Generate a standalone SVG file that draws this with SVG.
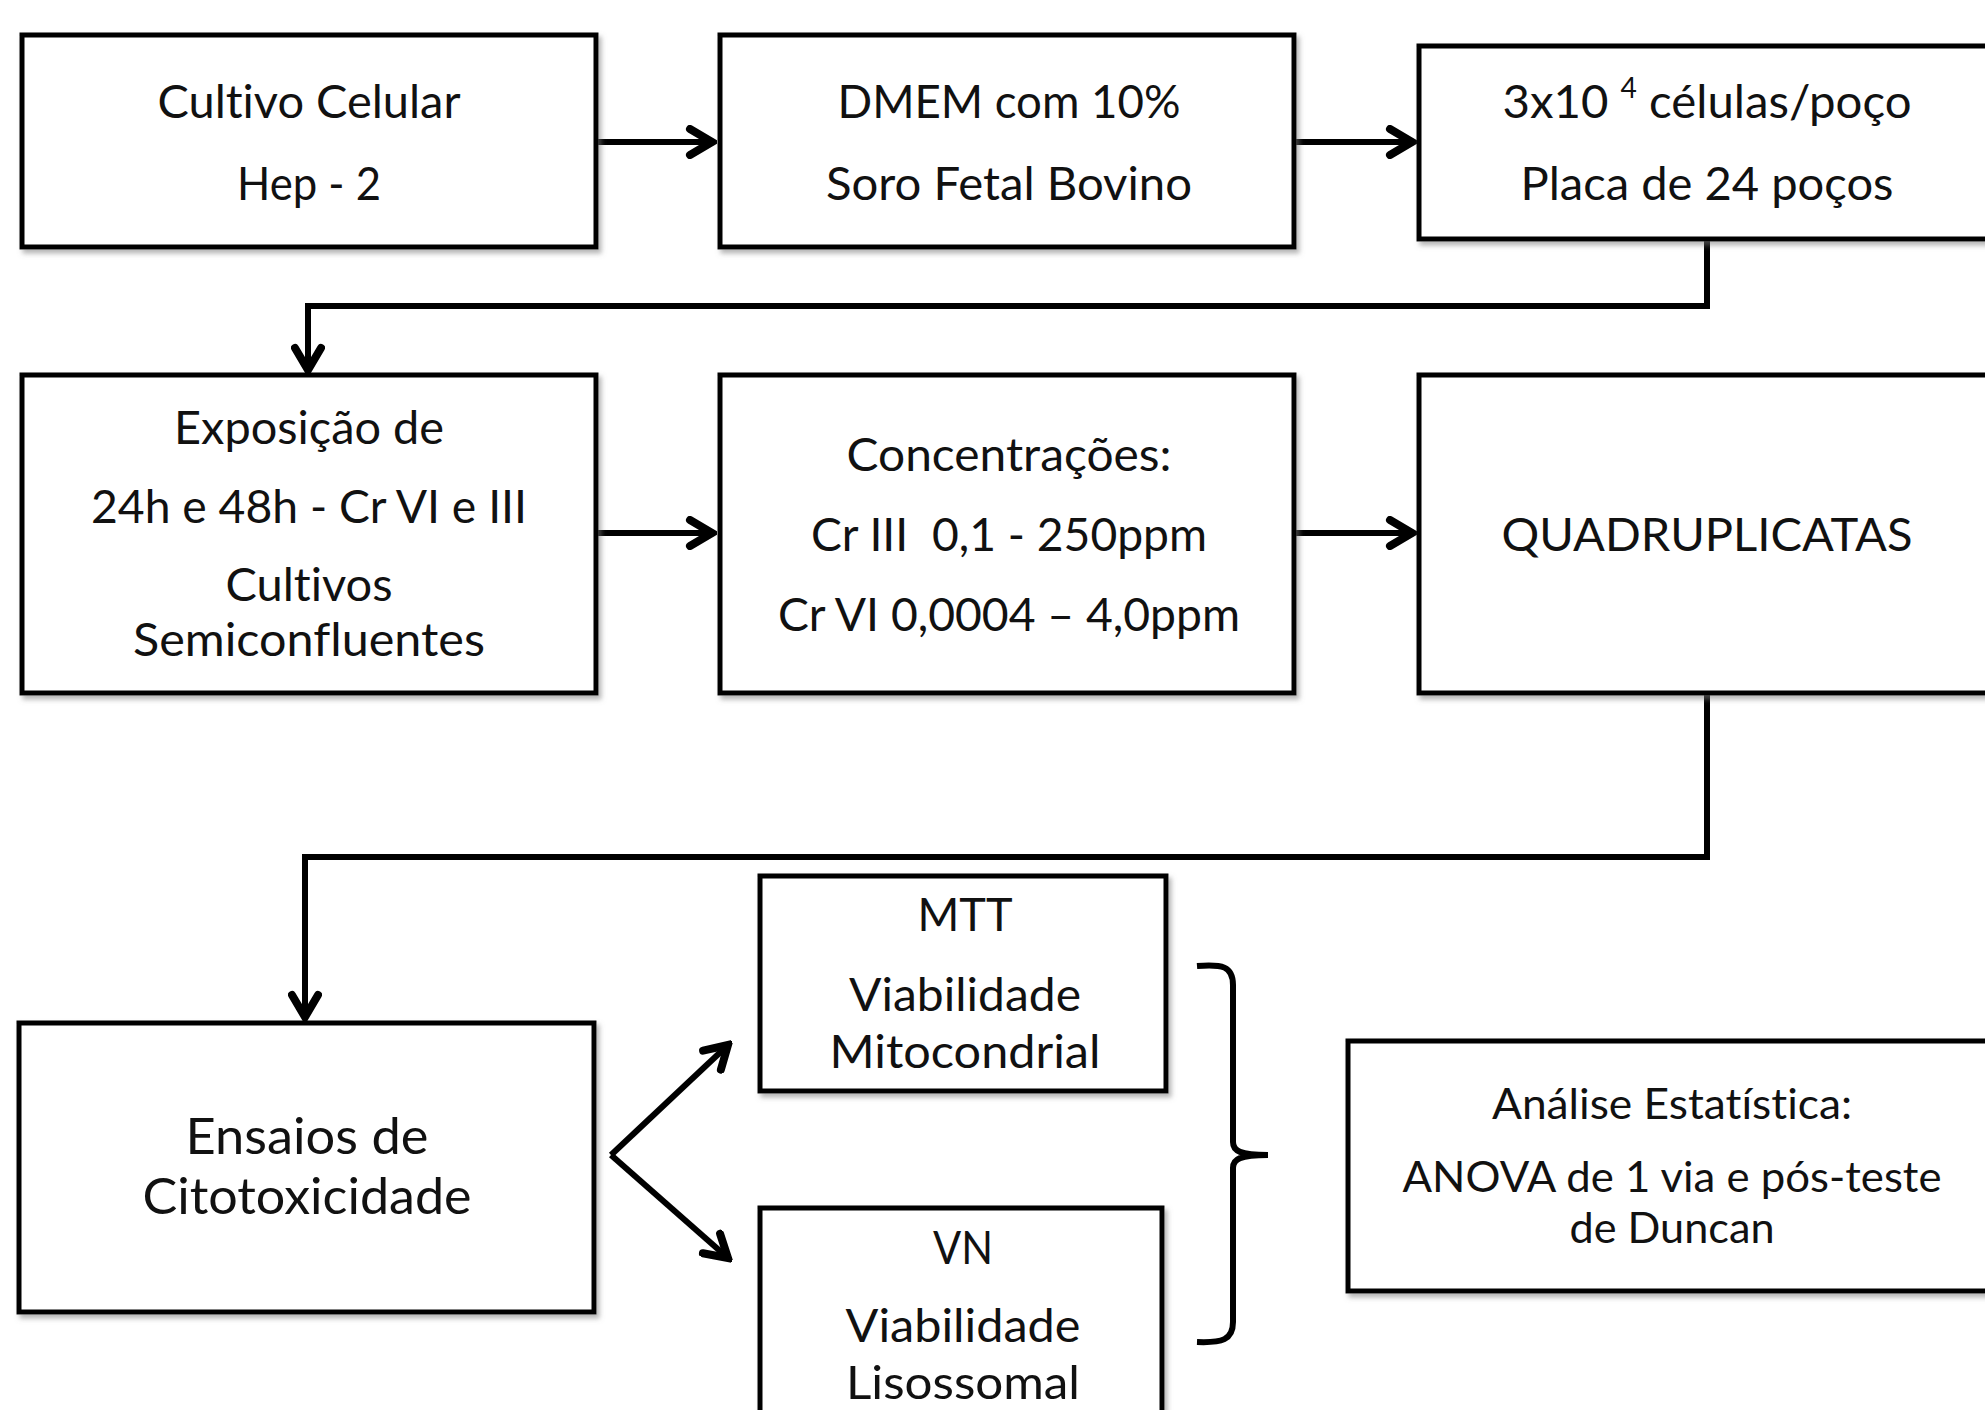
<svg xmlns="http://www.w3.org/2000/svg" width="1985" height="1410" viewBox="0 0 1985 1410">
<style>
.box{fill:#fff;stroke:#000;stroke-width:5;filter:url(#sh)}
.t{font-family:Lato,"Open Sans","Liberation Sans",sans-serif;font-size:47px;fill:#111;text-anchor:middle;font-variant-ligatures:none;font-feature-settings:"liga" 0}
.big{font-size:51px}
.sm{font-size:43px}
.c{fill:none;stroke:#000;stroke-width:6}
</style>
<defs>
<filter id="sh" x="-5%" y="-5%" width="115%" height="115%">
<feDropShadow dx="3" dy="4" stdDeviation="2.5" flood-color="#777" flood-opacity="0.55"/>
</filter>
<marker id="arr" viewBox="0 0 32 34" refX="27" refY="17" markerWidth="32" markerHeight="34" markerUnits="userSpaceOnUse" orient="auto">
<path d="M5,4 L27,17 L5,30" fill="none" stroke="#000" stroke-width="8" stroke-linecap="round" stroke-linejoin="miter"/>
</marker>
</defs>
<rect width="1985" height="1410" fill="#fff"/>

<g id="connectors">
<line class="c" x1="596" y1="142" x2="712" y2="142" marker-end="url(#arr)"/>
<line class="c" x1="1294" y1="142" x2="1412" y2="142" marker-end="url(#arr)"/>
<polyline class="c" points="1707,239 1707,306 308,306 308,370" marker-end="url(#arr)"/>
<line class="c" x1="596" y1="533" x2="712" y2="533" marker-end="url(#arr)"/>
<line class="c" x1="1294" y1="533" x2="1412" y2="533" marker-end="url(#arr)"/>
<polyline class="c" points="1707,692 1707,857 305,857 305,1017" marker-end="url(#arr)"/>
<line class="c" x1="611" y1="1155" x2="728" y2="1045" marker-end="url(#arr)"/>
<line class="c" x1="611" y1="1155" x2="728" y2="1258" marker-end="url(#arr)"/>
<path class="c" d="M1197,966 C1222,964 1233,966 1233,985 L1233,1142 C1233,1151 1240,1155 1268,1155 C1240,1155 1233,1159 1233,1168 L1233,1322 C1233,1340 1222,1343 1197,1342"/>
</g>

<g id="n1">
<rect class="box" x="22" y="35" width="574" height="212"/>
<text class="t" x="309" y="118" textLength="303" lengthAdjust="spacingAndGlyphs">Cultivo Celular</text>
<text class="t" x="309" y="200" textLength="144" lengthAdjust="spacingAndGlyphs">Hep - 2</text>
</g>
<g id="n2">
<rect class="box" x="720" y="35" width="574" height="212"/>
<text class="t" x="1009" y="118" textLength="343" lengthAdjust="spacingAndGlyphs">DMEM com 10%</text>
<text class="t" x="1009" y="200" textLength="366" lengthAdjust="spacingAndGlyphs">Soro Fetal Bovino</text>
</g>
<g id="n3">
<rect class="box" x="1419" y="46" width="600" height="193"/>
<text class="t" x="1707" y="118" textLength="409" lengthAdjust="spacingAndGlyphs">3x10 <tspan font-size="28" dy="-20">4</tspan><tspan dy="20"> células/poço</tspan></text>
<text class="t" x="1707" y="200" textLength="373" lengthAdjust="spacingAndGlyphs">Placa de 24 poços</text>
</g>
<g id="n4">
<rect class="box" x="22" y="375" width="574" height="318"/>
<text class="t" x="309" y="444" textLength="270" lengthAdjust="spacingAndGlyphs">Exposição de</text>
<text class="t" x="309" y="523" textLength="436" lengthAdjust="spacingAndGlyphs">24h e 48h - Cr VI e III</text>
<text class="t" x="309" y="601" textLength="167" lengthAdjust="spacingAndGlyphs">Cultivos</text>
<text class="t" x="309" y="656" textLength="352" lengthAdjust="spacingAndGlyphs">Semiconfluentes</text>
</g>
<g id="n5">
<rect class="box" x="720" y="375" width="574" height="318"/>
<text class="t" x="1009" y="471" textLength="325" lengthAdjust="spacingAndGlyphs">Concentrações:</text>
<text class="t" x="1009" y="551" textLength="396" lengthAdjust="spacingAndGlyphs" xml:space="preserve">Cr III  0,1 - 250ppm</text>
<text class="t" x="1009" y="631" textLength="462" lengthAdjust="spacingAndGlyphs">Cr VI 0,0004 – 4,0ppm</text>
</g>
<g id="n6">
<rect class="box" x="1419" y="375" width="600" height="318"/>
<text class="t" x="1707" y="551" textLength="411" lengthAdjust="spacingAndGlyphs">QUADRUPLICATAS</text>
</g>
<g id="n7">
<rect class="box" x="19" y="1023" width="575" height="289"/>
<text class="t big" x="307" y="1154" textLength="243" lengthAdjust="spacingAndGlyphs">Ensaios de</text>
<text class="t big" x="307" y="1214" textLength="329" lengthAdjust="spacingAndGlyphs">Citotoxicidade</text>
</g>
<g id="n8">
<rect class="box" x="760" y="876" width="406" height="215"/>
<text class="t" x="965" y="931" textLength="95" lengthAdjust="spacingAndGlyphs">MTT</text>
<text class="t" x="965" y="1011" textLength="232" lengthAdjust="spacingAndGlyphs">Viabilidade</text>
<text class="t" x="965" y="1068" textLength="271" lengthAdjust="spacingAndGlyphs">Mitocondrial</text>
</g>
<g id="n9">
<rect class="box" x="760" y="1208" width="402" height="240"/>
<text class="t" x="963" y="1264" textLength="60" lengthAdjust="spacingAndGlyphs">VN</text>
<text class="t" x="963" y="1342" textLength="235" lengthAdjust="spacingAndGlyphs">Viabilidade</text>
<text class="t" x="963" y="1399" textLength="234" lengthAdjust="spacingAndGlyphs">Lisossomal</text>
</g>
<g id="n10">
<rect class="box" x="1348" y="1041" width="660" height="250"/>
<text class="t sm" x="1672" y="1119" textLength="360" lengthAdjust="spacingAndGlyphs">Análise Estatística:</text>
<text class="t sm" x="1672" y="1192" textLength="539" lengthAdjust="spacingAndGlyphs">ANOVA de 1 via e pós-teste</text>
<text class="t sm" x="1672" y="1243" textLength="205" lengthAdjust="spacingAndGlyphs">de Duncan</text>
</g>
</svg>
